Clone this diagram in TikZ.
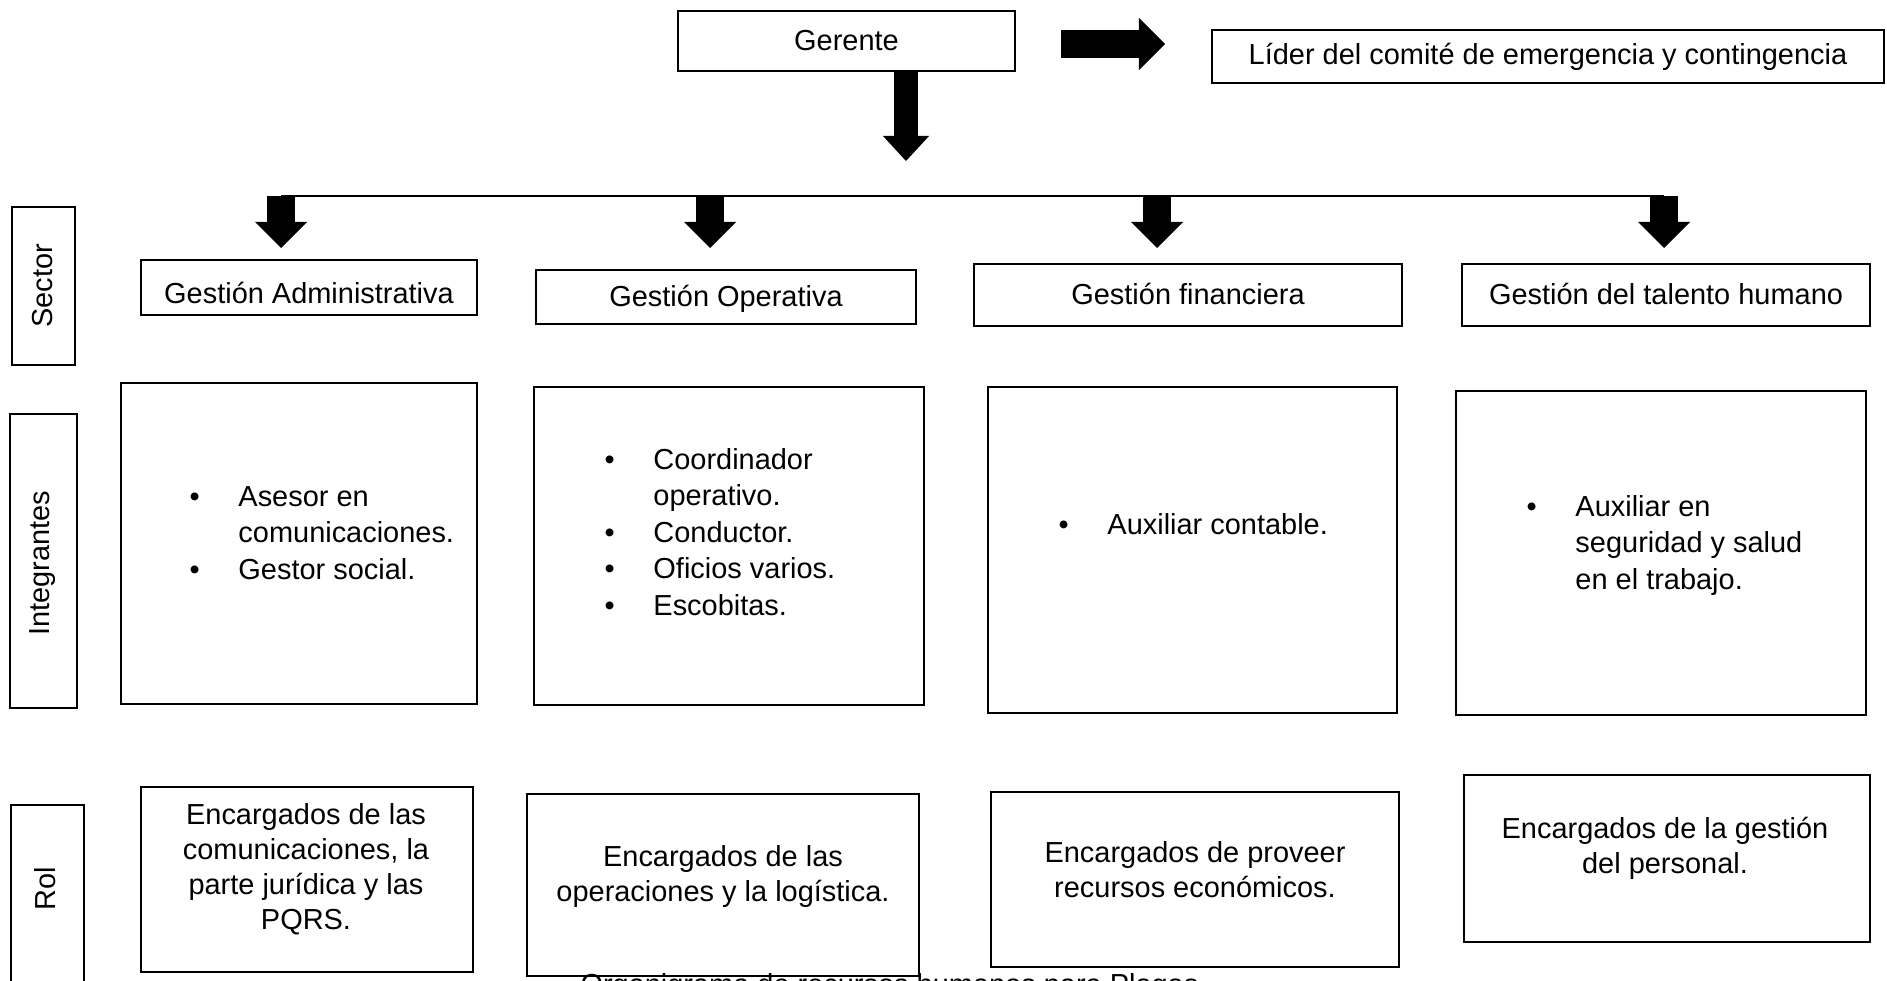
\documentclass[tikz,border=0pt]{standalone}
\usepackage{fontspec}
\setmainfont{Liberation Sans}
\usetikzlibrary{arrows.meta,fit}

\begin{document}
\begin{tikzpicture}
[x=0.38pt,y=-0.38pt,
every node/.style={font=\fontsize{11}{13.3}\selectfont},
caja/.style={draw,line width=0.9pt,inner sep=0pt},
texto/.style={align=center,inner sep=0pt},
lista/.style={anchor=base west,inner sep=0pt,font=\fontsize{11}{13.9}\selectfont},
flecha/.style={line width=10.3pt,-{Triangle[length=9.9pt,width=19.8pt,line width=0pt]}}]
\useasboundingbox (0,0) rectangle (1887,981);
\clip (0,0) rectangle (1887,981);
% cabecera
\node[caja,line width=1pt,fit={(678,11) (1015,71)}] (ger) {};
\node[caja,fit={(1212,30) (1884,83)}] (lid) {};
\node[texto] (tger) at (ger.center) {Gerente};
\node[texto] (tlid) at (lid.center) {Líder del comité de emergencia y contingencia};
\coordinate (q0) at (1061,44);
\coordinate (q1) at (1165,44);
\draw[flecha] (q0) -- (q1);
\coordinate (p0) at (906,161);
\draw[flecha,line width=9pt,-{Triangle[length=9.5pt,width=17.5pt,line width=0pt]}] (ger.south -| p0) -- (p0);
% linea y flechas
\coordinate (c1) at (281,196);
\coordinate (c2) at (710,196);
\coordinate (c3) at (1157,196);
\coordinate (c4) at (1664,196);
\draw[line width=0.6pt] (c1) -- (c4);
\foreach \i/\x in {1/281,2/710,3/1157,4/1664}
  {\coordinate (a\i) at (\x,248);
   \draw[flecha] (c\i) -- (a\i);}
% columna izquierda
\node[caja,fit={(12,207) (75,365)}] (lsec) {};
\node[caja,fit={(10,414) (77,708)}] (lint) {};
\node[caja,fit={(11,805) (84,1000)}] (lrol) {};
\node[texto,rotate=90] (tsec) at (43,286) {Sector};
\node[texto,rotate=90] (tint) at (43,563) {Integrantes};
\node[texto,rotate=90] (trol) at (45,889) {Rol};
% sectores
\node[caja,fit={(141,260) (477,315)}] (sadm) {};
\node[caja,fit={(536,270) (916,324)}] (sope) {};
\node[caja,fit={(974,264) (1402,326)}] (sfin) {};
\node[caja,fit={(1462,264) (1870,326)}] (stal) {};
\node[texto] (tsadm) at (309,293) {Gestión Administrativa};
\node[texto] (tsope) at (726,299) {Gestión Operativa};
\node[texto] (tsfin) at (1188,294) {Gestión financiera};
\node[texto] (tstal) at (1666,294) {Gestión del talento humano};
% integrantes
\node[caja,fit={(121,383) (477,704)}] (iadm) {};
\node[caja,fit={(534,387) (924,705)}] (iope) {};
\node[caja,fit={(988,387) (1397,713)}] (ifin) {};
\node[caja,fit={(1456,391) (1866,715)}] (ital) {};
\node[lista] (ladm) at (189,506) {\begin{tabular}[t]{@{}p{18.6pt}@{}l@{}}
\textbullet & Asesor en\\
 & comunicaciones.\\
\textbullet & Gestor social.
\end{tabular}};
\node[lista] (lope) at (604,469) {\begin{tabular}[t]{@{}p{18.6pt}@{}l@{}}
\textbullet & Coordinador\\
 & operativo.\\
\textbullet & Conductor.\\
\textbullet & Oficios varios.\\
\textbullet & Escobitas.
\end{tabular}};
\node[lista] (lfin) at (1058,534) {\begin{tabular}[t]{@{}p{18.6pt}@{}l@{}}
\textbullet & Auxiliar contable.
\end{tabular}};
\node[lista] (ltal) at (1526,516) {\begin{tabular}[t]{@{}p{18.6pt}@{}l@{}}
\textbullet & Auxiliar en\\
 & seguridad y salud\\
 & en el trabajo.
\end{tabular}};
% roles
\node[caja,fit={(141,787) (473,972)}] (radm) {};
\node[caja,fit={(527,794) (919,976)}] (rope) {};
\node[caja,fit={(991,792) (1399,967)}] (rfin) {};
\node[caja,fit={(1464,775) (1870,942)}] (rtal) {};
\node[texto] (tadm) at (306,869) {Encargados de las\\comunicaciones, la\\parte jurídica y las\\PQRS.};
\node[texto] (tope) at (723,877) {Encargados de las\\operaciones y la logística.};
\node[texto] (tfin) at (1195,870) {Encargados de proveer\\recursos económicos.};
\node[texto] (ttal) at (1665,848) {Encargados de la gestión\\del personal.};
\node[anchor=base west,inner sep=0pt] (cap) at (580,994) {Organigrama de recursos humanos para Plagas};
\end{tikzpicture}
\end{document}
